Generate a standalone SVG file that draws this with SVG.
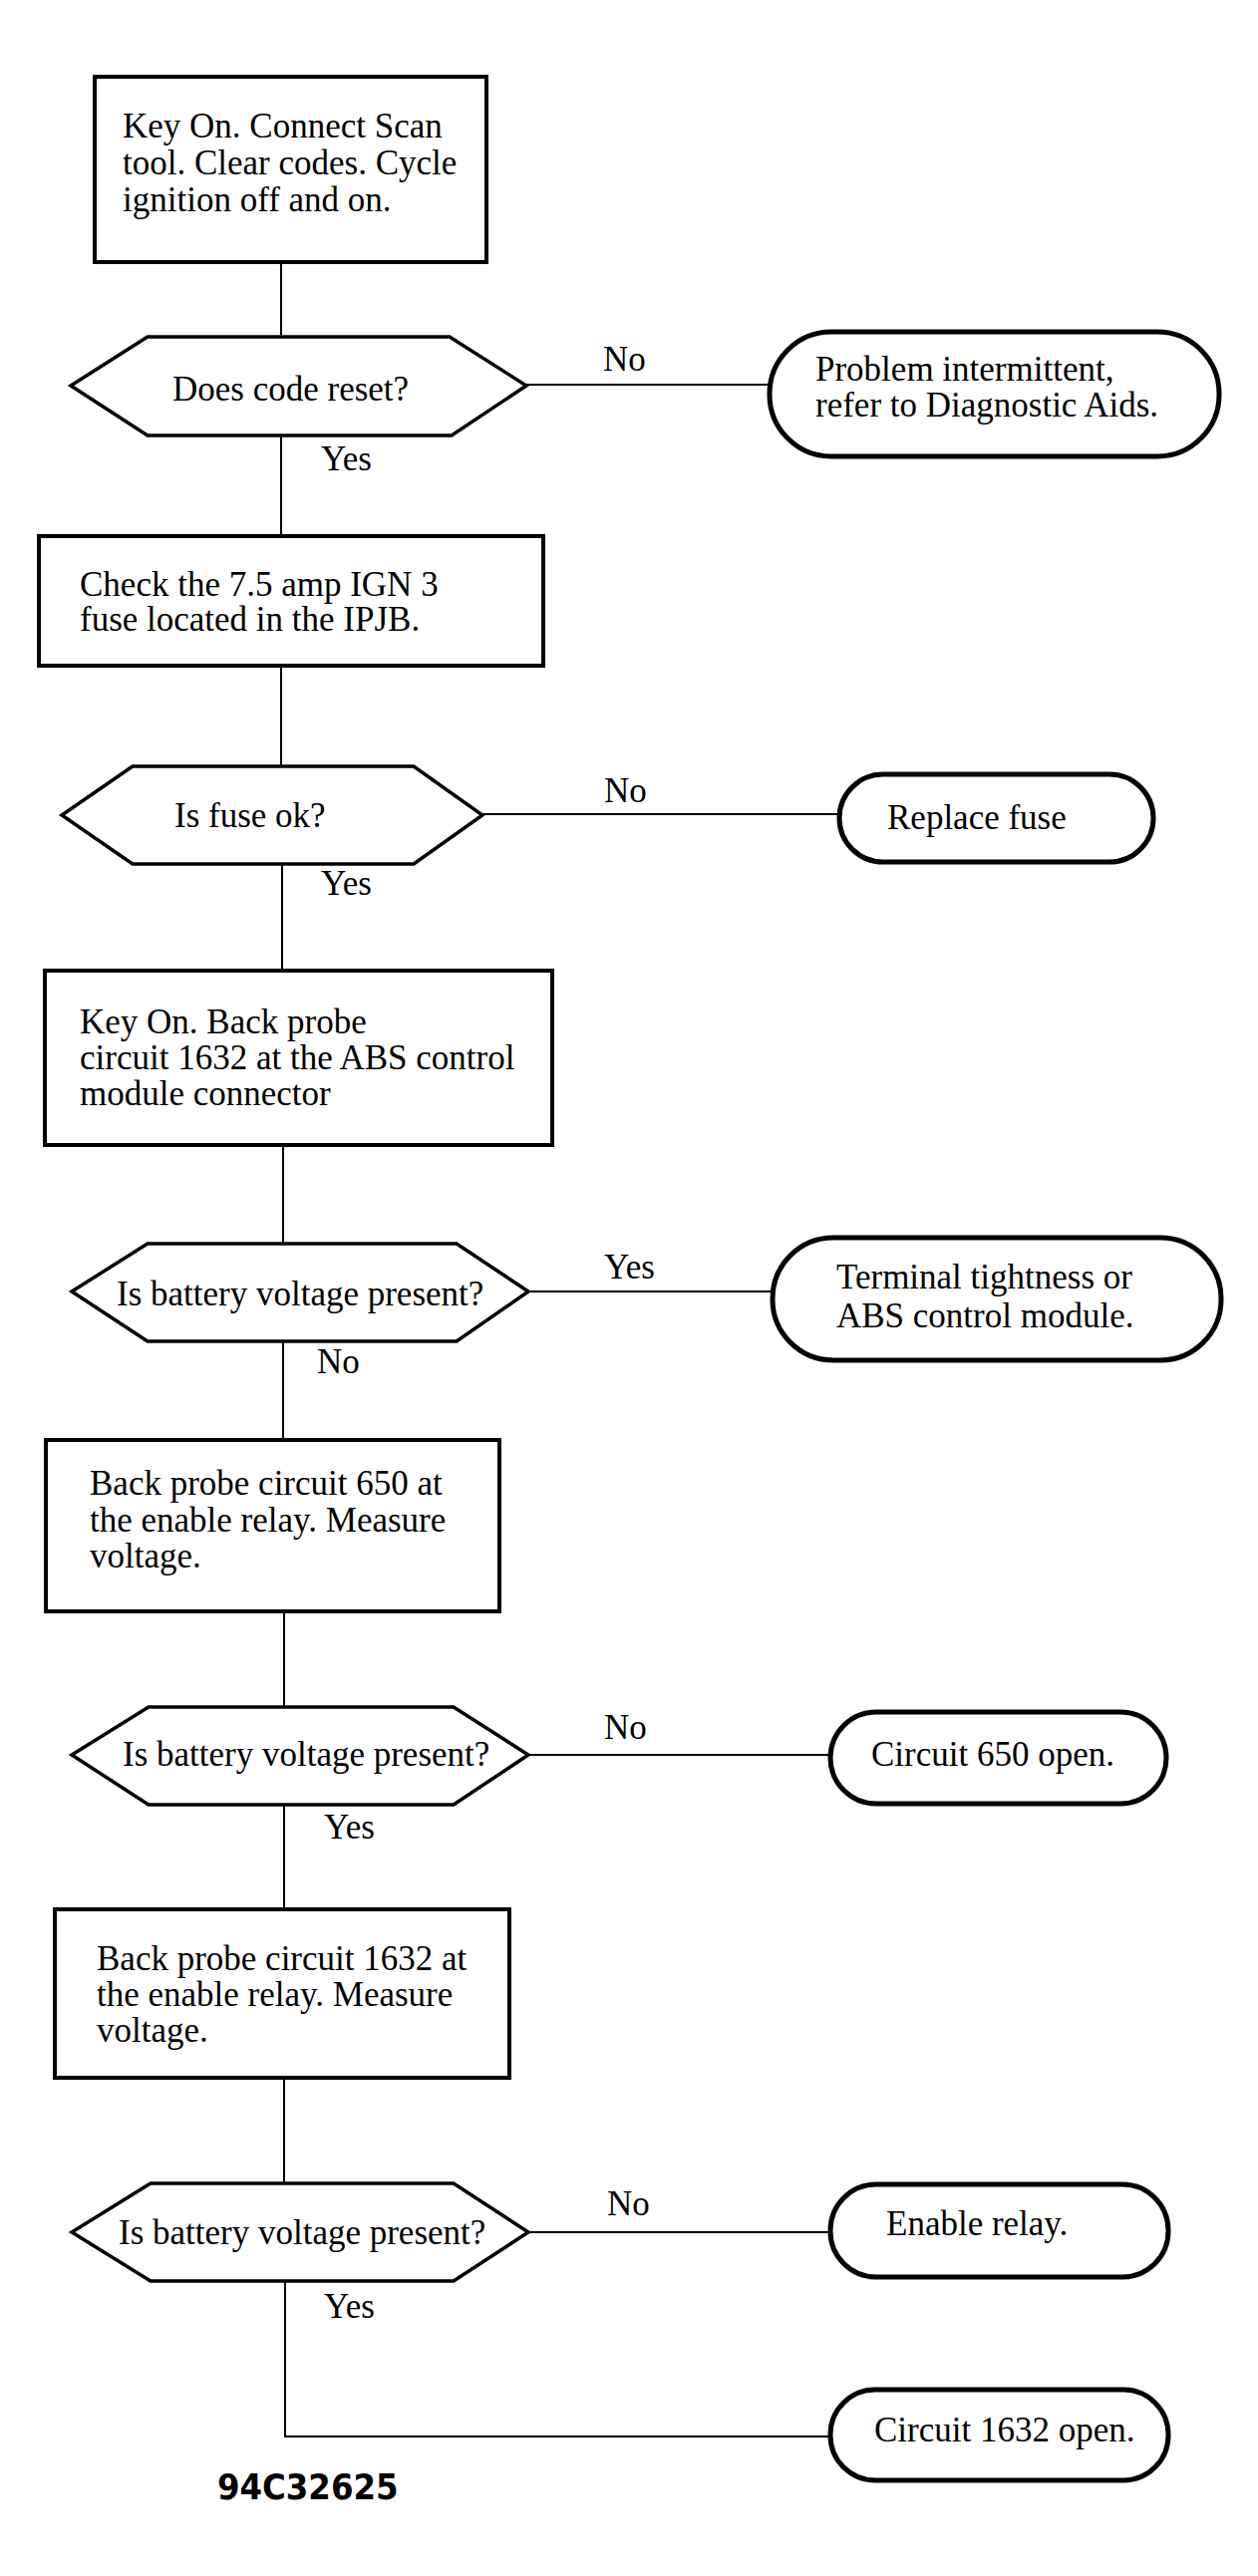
<svg xmlns="http://www.w3.org/2000/svg" width="1262" height="2585" viewBox="0 0 1262 2585">
<style>
.bg{fill:#fff}
.box{fill:#fff;stroke:#000;stroke-width:4}
.hex{fill:#fff;stroke:#000;stroke-width:3.5;stroke-linejoin:miter}
.term{fill:#fff;stroke:#000;stroke-width:5}
.ln{fill:none;stroke:#000;stroke-width:2}
text{font-family:"Liberation Serif","Times New Roman",serif;font-size:35px;fill:#000}
.id{font-family:"DejaVu Sans Condensed","DejaVu Sans","Liberation Sans",sans-serif;font-weight:bold;font-size:36px}
</style>
<rect class="bg" x="0" y="0" width="1262" height="2585"/>
<g id="connectors">
<line class="ln" x1="282" y1="263" x2="282" y2="338"/>
<line class="ln" x1="528" y1="386" x2="772" y2="386"/>
<line class="ln" x1="282" y1="437" x2="282" y2="538"/>
<line class="ln" x1="282" y1="668" x2="282" y2="769"/>
<line class="ln" x1="484" y1="817" x2="842" y2="817"/>
<line class="ln" x1="283" y1="867" x2="283" y2="974"/>
<line class="ln" x1="284" y1="1149" x2="284" y2="1248"/>
<line class="ln" x1="530" y1="1296" x2="775" y2="1296"/>
<line class="ln" x1="284" y1="1346" x2="284" y2="1445"/>
<line class="ln" x1="285" y1="1617" x2="285" y2="1713"/>
<line class="ln" x1="530" y1="1761" x2="833" y2="1761"/>
<line class="ln" x1="285" y1="1811" x2="285" y2="1916"/>
<line class="ln" x1="285" y1="2085" x2="285" y2="2191"/>
<line class="ln" x1="530" y1="2240" x2="833" y2="2240"/>
<polyline class="ln" points="286,2289 286,2445 833,2445"/>
<text x="605" y="372">No</text>
<text x="322" y="472">Yes</text>
<text x="606" y="805">No</text>
<text x="322" y="898">Yes</text>
<text x="606" y="1283">Yes</text>
<text x="318" y="1378">No</text>
<text x="606" y="1745">No</text>
<text x="325" y="1845">Yes</text>
<text x="609" y="2223">No</text>
<text x="325" y="2326">Yes</text>
</g>
<g id="box1">
<rect class="box" x="95" y="77" width="393" height="186"/>
<text x="123" y="138">Key On. Connect Scan</text>
<text x="123" y="175">tool. Clear codes. Cycle</text>
<text x="123" y="212">ignition off and on.</text>
</g>
<g id="dec1">
<polygon class="hex" points="71,387 148,338 451,338 528,387 453,437 148,437"/>
<text x="173" y="402">Does code reset?</text>
</g>
<g id="term1">
<rect class="term" x="772" y="333" width="451" height="125" rx="62" ry="62"/>
<text x="818" y="382">Problem intermittent,</text>
<text x="818" y="418">refer to Diagnostic Aids.</text>
</g>
<g id="box2">
<rect class="box" x="39" y="538" width="506" height="130"/>
<text x="80" y="598">Check the 7.5 amp IGN 3</text>
<text x="80" y="633">fuse located in the IPJB.</text>
</g>
<g id="dec2">
<polygon class="hex" points="62,818 133,769 415,769 484,818 415,867 133,867"/>
<text x="175" y="830">Is fuse ok?</text>
</g>
<g id="term2">
<rect class="term" x="842" y="777" width="315" height="88" rx="44" ry="44"/>
<text x="890" y="832">Replace fuse</text>
</g>
<g id="box3">
<rect class="box" x="45" y="974" width="509" height="175"/>
<text x="80" y="1037">Key On. Back probe</text>
<text x="80" y="1073">circuit 1632 at the ABS control</text>
<text x="80" y="1109">module connector</text>
</g>
<g id="dec3">
<polygon class="hex" points="72,1296 148,1248 458,1248 530,1296 458,1346 148,1346"/>
<text x="117" y="1310">Is battery voltage present?</text>
</g>
<g id="term3">
<rect class="term" x="775" y="1242" width="450" height="123" rx="61" ry="61"/>
<text x="839" y="1293">Terminal tightness or</text>
<text x="839" y="1332">ABS control module.</text>
</g>
<g id="box4">
<rect class="box" x="46" y="1445" width="455" height="172"/>
<text x="90" y="1500">Back probe circuit 650 at</text>
<text x="90" y="1537">the enable relay. Measure</text>
<text x="90" y="1573">voltage.</text>
</g>
<g id="dec4">
<polygon class="hex" points="72,1761 149,1713 455,1713 530,1761 455,1811 149,1811"/>
<text x="123" y="1772">Is battery voltage present?</text>
</g>
<g id="term4">
<rect class="term" x="833" y="1718" width="337" height="92" rx="46" ry="46"/>
<text x="874" y="1772">Circuit 650 open.</text>
</g>
<g id="box5">
<rect class="box" x="55" y="1916" width="456" height="169"/>
<text x="97" y="1977">Back probe circuit 1632 at</text>
<text x="97" y="2013">the enable relay. Measure</text>
<text x="97" y="2049">voltage.</text>
</g>
<g id="dec5">
<polygon class="hex" points="72,2240 151,2191 455,2191 530,2240 455,2289 151,2289"/>
<text x="119" y="2252">Is battery voltage present?</text>
</g>
<g id="term5">
<rect class="term" x="833" y="2192" width="339" height="93" rx="46" ry="46"/>
<text x="889" y="2243">Enable relay.</text>
</g>
<g id="term6">
<rect class="term" x="833" y="2398" width="339" height="91" rx="45" ry="45"/>
<text x="877" y="2450">Circuit 1632 open.</text>
</g>
<text class="id" x="218" y="2508">94C32625</text>
</svg>
